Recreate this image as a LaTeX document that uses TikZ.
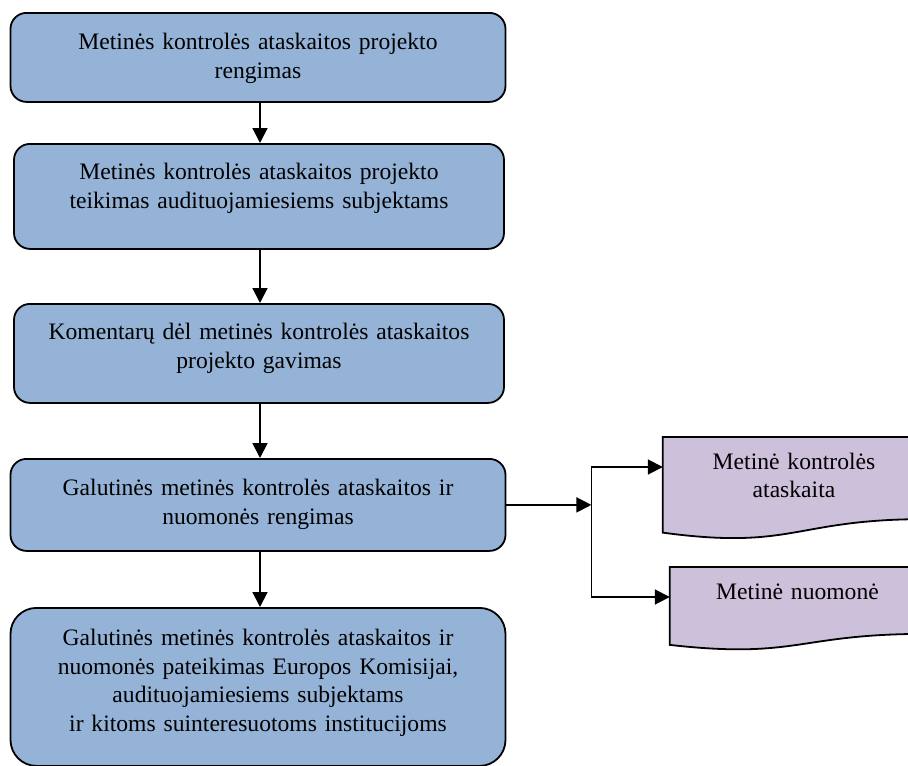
\documentclass[tikz,border=0pt]{standalone}
\usepackage{fontspec}
\setmainfont{Liberation Serif}
\usetikzlibrary{arrows.meta}
\usetikzlibrary{backgrounds}
\usetikzlibrary{calc}

\definecolor{stepblue}{RGB}{149,179,215}
\definecolor{docviolet}{RGB}{204,192,218}

\begin{document}
\begin{tikzpicture}
[x = 1pt, y = -1pt,
post/.style = {-{Triangle[length = 15pt, width = 15pt]}, line width = 1.8pt},
stepbox/.style = {rectangle, rounded corners = 16pt, draw = black, fill = stepblue, line width = 1.8pt, anchor = north, inner sep = 0pt, text width = 490pt, align = center, text height = 36pt, font = \fontsize{23.6}{28.5}\selectfont},
docbox/.style = {rectangle, anchor = north, inner sep = 0pt, align = center, text height = 32pt, font = \fontsize{23.6}{28.5}\selectfont},
docline/.style = {draw = black, fill = docviolet, line width = 1.8pt}]

\useasboundingbox (0, 0) rectangle (908, 766);

\node[stepbox, text width = 495pt, text height = 37pt, text depth = 52pt] (prep) at (258, 12) {Metinės kontrolės ataskaitos projekto\\rengimas};
\node[stepbox, text depth = 69pt] (send) at (259, 143) {Metinės kontrolės ataskaitos projekto\\teikimas audituojamiesiems subjektams};
\node[stepbox, text depth = 63pt] (comments) at (259, 303) {Komentarų dėl metinės kontrolės ataskaitos\\projekto gavimas};
\node[stepbox, text width = 495pt, text height = 37pt, text depth = 55pt] (final) at (258, 458) {Galutinės metinės kontrolės ataskaitos ir\\nuomonės rengimas};
\node[stepbox, text width = 495pt, text height = 38pt, text depth = 120pt, rounded corners = 26pt] (submit) at (258, 607) {Galutinės metinės kontrolės ataskaitos ir\\nuomonės pateikimas Europos Komisijai,\\audituojamiesiems subjektams\\ir kitoms suinteresuotoms institucijoms};

\node[docbox, text width = 262pt, text depth = 70pt] (report) at (794, 437) {Metinė kontrolės\\ataskaita};
\node[docbox, text width = 255pt, text depth = 51pt] (opinion) at (797.5, 567) {Metinė nuomonė};

\draw[post] ([xshift = 2pt]prep.south) -- ([xshift = 1pt]send.north);
\draw[post] ([xshift = 1pt]send.south) -- ([xshift = 1pt]comments.north);
\draw[post] ([xshift = 1pt]comments.south) -- ([xshift = 2pt]final.north);
\draw[post] ([xshift = 2pt]final.south) -- ([xshift = 2pt]submit.north);

\coordinate (fork) at ([xshift = 85pt]final.east);
\draw[post] (final.east) -- (fork);
\draw[post] (fork) |- ([yshift = -30pt]report.north west);
\draw[post] (fork) |- ([yshift = -30pt]opinion.north west);

\begin{scope}[on background layer]
\foreach \d in {report, opinion}
  \filldraw[docline] (\d.north west) -- (\d.north east) -- ($(\d.north east)!0.802!(\d.south east)$)
    .. controls ($(\d.north)!0.802!(\d.south)$) and ($(\d.north)!1.107!(\d.south)$) .. ($(\d.north west)!0.934!(\d.south west)$) -- cycle;
\end{scope}
\end{tikzpicture}
\end{document}
